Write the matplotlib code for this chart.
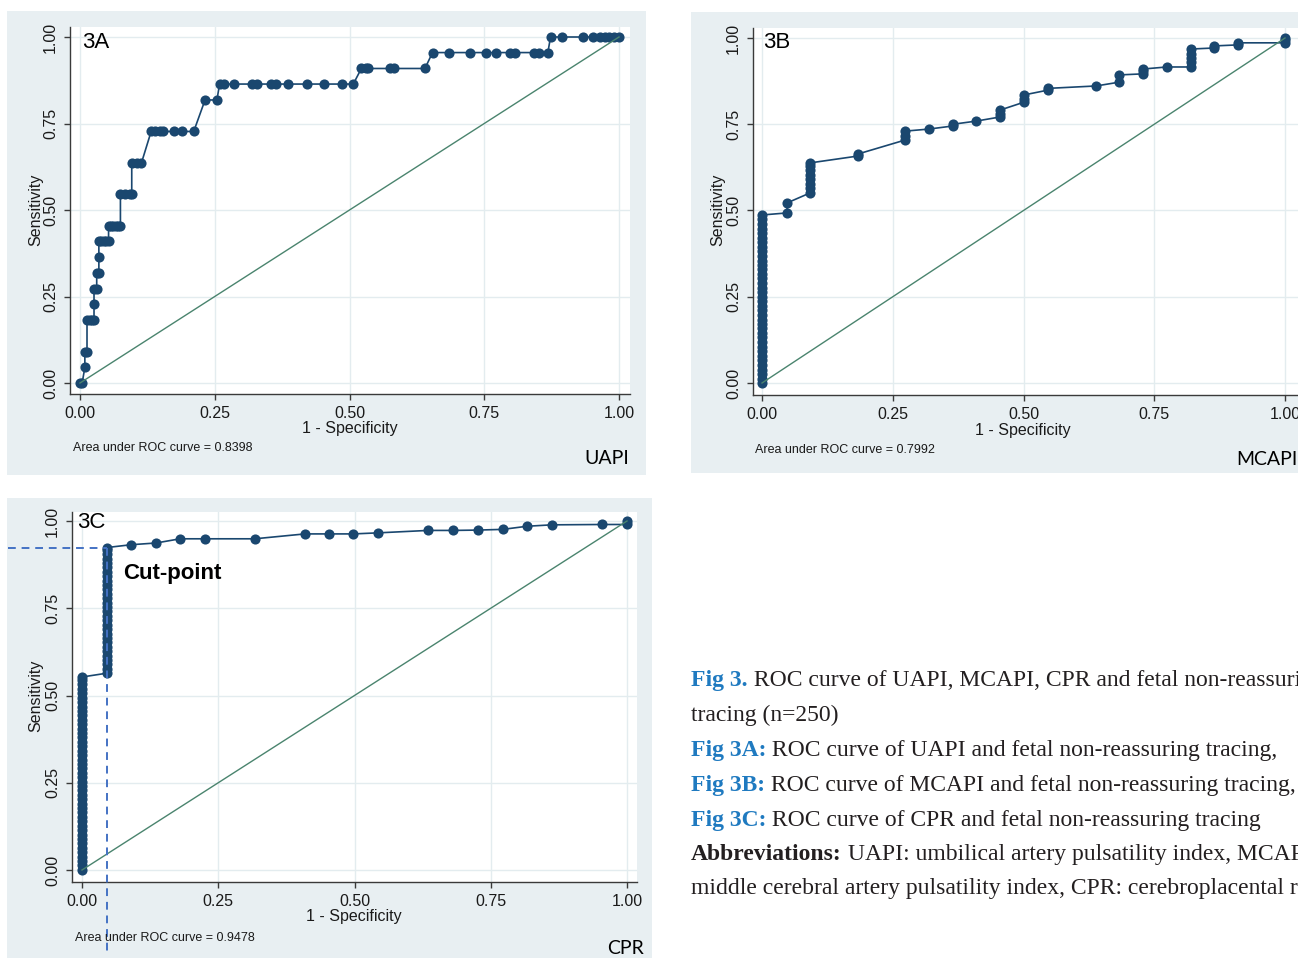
import matplotlib
matplotlib.use("Agg")
import matplotlib.pyplot as plt
from matplotlib.patches import Rectangle

# ---------------- data ----------------
# 3A: UAPI ROC curve points (1 - specificity, sensitivity)
uapi_fpr = [0.000, 0.004,
            0.009,
            0.009, 0.013,
            0.013, 0.018, 0.022, 0.026,
            0.026,
            0.026, 0.031,
            0.031, 0.035,
            0.035,
            0.035, 0.039, 0.044, 0.048, 0.053,
            0.053, 0.057, 0.061, 0.066, 0.070, 0.075,
            0.075, 0.083, 0.092, 0.096,
            0.096, 0.105, 0.114,
            0.132, 0.140, 0.149, 0.154, 0.175, 0.189, 0.211,
            0.232, 0.254,
            0.259, 0.268, 0.285, 0.320, 0.329, 0.355, 0.364, 0.386, 0.421, 0.452, 0.487, 0.507,
            0.522, 0.531, 0.535, 0.575, 0.583, 0.640,
            0.654, 0.684, 0.724, 0.754, 0.772, 0.798, 0.807, 0.842, 0.851, 0.868,
            0.873, 0.895, 0.934, 0.952, 0.965, 0.974, 0.982, 0.991, 1.000]
uapi_sens = [0.000, 0.000,
             0.045,
             0.091, 0.091,
             0.182, 0.182, 0.182, 0.182,
             0.227,
             0.273, 0.273,
             0.318, 0.318,
             0.364,
             0.409, 0.409, 0.409, 0.409, 0.409,
             0.455, 0.455, 0.455, 0.455, 0.455, 0.455,
             0.545, 0.545, 0.545, 0.545,
             0.636, 0.636, 0.636,
             0.727, 0.727, 0.727, 0.727, 0.727, 0.727, 0.727,
             0.818, 0.818,
             0.864, 0.864, 0.864, 0.864, 0.864, 0.864, 0.864, 0.864, 0.864, 0.864, 0.864, 0.864,
             0.909, 0.909, 0.909, 0.909, 0.909, 0.909,
             0.955, 0.955, 0.955, 0.955, 0.955, 0.955, 0.955, 0.955, 0.955, 0.955,
             1.000, 1.000, 1.000, 1.000, 1.000, 1.000, 1.000, 1.000, 1.000]

# 3B: MCAPI ROC curve points
mcapi_fpr = [0.000] * 38 + [
             0.048, 0.048,
             0.092, 0.092, 0.092, 0.092, 0.092, 0.092, 0.092, 0.092,
             0.184, 0.184,
             0.273, 0.273, 0.273,
             0.319,
             0.365, 0.365,
             0.409,
             0.455, 0.455, 0.455,
             0.501, 0.501, 0.501,
             0.547, 0.547,
             0.639,
             0.683, 0.683,
             0.728, 0.728, 0.728,
             0.774,
             0.820, 0.820, 0.820, 0.820, 0.820,
             0.864, 0.864,
             0.910, 0.910,
             1.000, 1.000, 1.000]
mcapi_sens = [0.000, 0.013, 0.026, 0.039, 0.053, 0.066, 0.079, 0.092, 0.105, 0.118,
              0.132, 0.145, 0.158, 0.171, 0.184, 0.197, 0.211, 0.224, 0.237, 0.250,
              0.263, 0.276, 0.289, 0.303, 0.316, 0.329, 0.342, 0.355, 0.368, 0.382,
              0.395, 0.408, 0.421, 0.434, 0.447, 0.461, 0.474, 0.487,
              0.493, 0.522,
              0.551, 0.564, 0.577, 0.590, 0.603, 0.617, 0.630, 0.638,
              0.658, 0.664,
              0.704, 0.717, 0.730,
              0.736,
              0.745, 0.750,
              0.759,
              0.771, 0.780, 0.791,
              0.814, 0.822, 0.835,
              0.849, 0.854,
              0.861,
              0.872, 0.893,
              0.896, 0.903, 0.910,
              0.916,
              0.916, 0.929, 0.942, 0.955, 0.968,
              0.971, 0.977,
              0.980, 0.986,
              0.986, 0.993, 1.000]

# 3C: CPR ROC curve points
cpr_fpr = [0.000] * 45 + [0.046] * 30 + [
           0.090, 0.136, 0.180, 0.226, 0.317, 0.409, 0.454, 0.498, 0.543,
           0.635, 0.681, 0.727, 0.772, 0.817, 0.862, 0.954, 1.000, 1.000]
cpr_sens = [0.000, 0.013, 0.025, 0.038, 0.051, 0.063, 0.076, 0.089, 0.101, 0.114,
            0.127, 0.139, 0.152, 0.165, 0.177, 0.190, 0.203, 0.215, 0.228, 0.241,
            0.253, 0.266, 0.278, 0.291, 0.304, 0.316, 0.329, 0.342, 0.354, 0.367,
            0.380, 0.392, 0.405, 0.418, 0.430, 0.443, 0.456, 0.468, 0.481, 0.494,
            0.506, 0.519, 0.532, 0.544, 0.553,
            0.564, 0.576, 0.589, 0.601, 0.614, 0.627, 0.639, 0.652, 0.665, 0.677,
            0.690, 0.703, 0.715, 0.728, 0.741, 0.753, 0.766, 0.778, 0.791, 0.804,
            0.816, 0.829, 0.842, 0.854, 0.867, 0.880, 0.892, 0.905, 0.918, 0.924,
            0.932, 0.937, 0.949, 0.949, 0.949, 0.963, 0.963, 0.963, 0.966,
            0.973, 0.973, 0.974, 0.976, 0.985, 0.989, 0.990, 0.990, 1.000]

# optimal cut-point of CPR
cut_fpr = 0.046
cut_sens = 0.924

auc_values = {"3A": 0.8398, "3B": 0.7992, "3C": 0.9478}
marker_names = {"3A": "UAPI", "3B": "MCAPI", "3C": "CPR"}

tick_values = [0.0, 0.25, 0.5, 0.75, 1.0]
tick_labels = ["0.00", "0.25", "0.50", "0.75", "1.00"]

caption_lines = [
    [("Fig 3.", "blue"), (" ROC curve of UAPI, MCAPI, CPR and fetal non-reassuring", "plain")],
    [("tracing (n=250)", "plain")],
    [("Fig 3A:", "blue"), (" ROC curve of UAPI and fetal non-reassuring tracing,", "plain")],
    [("Fig 3B:", "blue"), (" ROC curve of MCAPI and fetal non-reassuring tracing,", "plain")],
    [("Fig 3C:", "blue"), (" ROC curve of CPR and fetal non-reassuring tracing", "plain")],
    [("Abbreviations:", "bold"), (" UAPI: umbilical artery pulsatility index, MCAPI:", "plain")],
    [("middle cerebral artery pulsatility index, CPR: cerebroplacental ratio", "plain")],
]

# ---------------- style ----------------
W, H, DPI = 1298, 958, 100
PANEL_BG = "#e8eff2"
GRID = "#e3ecef"
NAVY = "#1a476f"
DIAG = "#4a846e"
CUT = "#4472c4"
AXIS = "#3a3a3a"
TXT = "#1a1a1a"
SANS = ["Liberation Sans", "DejaVu Sans"]

plt.rcParams["font.family"] = SANS

fig = plt.figure(figsize=(W / DPI, H / DPI), dpi=DPI)
fig.patch.set_facecolor("white")


def fx(px):
    return px / W


def fy(py):
    return 1 - py / H


def panel(bg_box, ax_box, x0px, x1px, y0px, y1px):
    """Grey graph region plus a white plot region; returns the axes.
    ax_box is (left, top, right, bottom) in pixels, x0px/x1px give where
    0 and 1 sit horizontally, y0px/y1px where 0 and 1 sit vertically."""
    bx0, by0, bx1, by1 = bg_box
    fig.add_artist(Rectangle((fx(bx0), fy(by1)), (bx1 - bx0) / W, (by1 - by0) / H,
                             transform=fig.transFigure, facecolor=PANEL_BG,
                             edgecolor="none", zorder=-5))
    l, t, r, b = ax_box
    ax = fig.add_axes([fx(l), fy(b), (r - l) / W, (b - t) / H])
    sx = x1px - x0px
    sy = y0px - y1px
    ax.set_xlim((l - x0px) / sx, (r - x0px) / sx)
    ax.set_ylim((y0px - b) / sy, (y0px - t) / sy)
    ax.set_facecolor("white")
    for s in ("top", "right"):
        ax.spines[s].set_visible(False)
    for s in ("left", "bottom"):
        ax.spines[s].set_color(AXIS)
        ax.spines[s].set_linewidth(1.0)
    ax.set_xticks(tick_values)
    ax.set_xticklabels(tick_labels)
    ax.set_yticks(tick_values)
    ax.set_yticklabels(tick_labels, rotation=90, va="center")
    ax.tick_params(axis="both", length=4, width=1.0, color=AXIS, labelsize=11.5,
                   labelcolor=TXT, pad=4.5)
    ax.grid(True, color=GRID, linewidth=1.0)
    ax.set_axisbelow(True)
    return ax


def draw_roc(ax, fpr, sens):
    ax.plot(fpr, sens, color=NAVY, linewidth=1.2, marker="o", markersize=7.3,
            markeredgewidth=0, zorder=3)
    ax.plot([0, 1], [0, 1], color=DIAG, linewidth=1.0, zorder=4)


def labels(key, sens_x, sens_y, spec_x, spec_y, tag_x, tag_y, area_x, area_y,
           name_x, name_y):
    fig.text(fx(sens_x), fy(sens_y), "Sensitivity", rotation=90, ha="center",
             va="center", fontsize=11.5, color=TXT)
    fig.text(fx(spec_x), fy(spec_y), "1 - Specificity", ha="center", va="center",
             fontsize=11.5, color=TXT)
    fig.text(fx(tag_x), fy(tag_y), key, ha="left", va="center", fontsize=16,
             color="black")
    fig.text(fx(area_x), fy(area_y), f"Area under ROC curve = {auc_values[key]:.4f}",
             ha="left", va="center", fontsize=9, color=TXT)
    fig.text(fx(name_x), fy(name_y), marker_names[key], ha="right", va="center",
             fontsize=14, color="black", family=["Lato", "DejaVu Sans"])


# ---- 3A ----
axA = panel((7, 11, 646, 475), (70, 27, 630, 394), 80, 619, 383, 37)
draw_roc(axA, uapi_fpr, uapi_sens)
labels("3A", 36, 210, 350, 428, 82, 43, 73, 448, 629, 459)

# ---- 3B ----
axB = panel((691, 12, 1320, 473), (753, 28, 1312, 395), 762, 1285, 383, 38)
draw_roc(axB, mcapi_fpr, mcapi_sens)
labels("3B", 718, 210, 1023, 430, 763, 43, 755, 450, 1297, 460)

# ---- 3C ----
axC = panel((7, 498, 652, 970), (72, 512, 637, 882), 82, 627, 870, 521)
draw_roc(axC, cpr_fpr, cpr_sens)
labels("3C", 36, 696, 354, 917, 77, 522, 75, 938, 644, 948)

# cut-point guides run out to the edges of the graph region
axC.plot([-0.136, cut_fpr], [cut_sens, cut_sens], color=CUT, linewidth=1.4,
         linestyle=(0, (4, 3)), clip_on=False, zorder=5)
axC.plot([cut_fpr, cut_fpr], [cut_sens, -0.235], color=CUT, linewidth=1.4,
         linestyle=(0, (4, 3)), clip_on=False, zorder=5)
fig.text(fx(123), fy(573), "Cut-point", ha="left", va="center", fontsize=16,
         fontweight="bold", color="black")

# ---------------- caption ----------------
CAP_BLUE = "#1f7ac0"
CAP_TXT = "#231f20"
SERIF = ["Liberation Serif", "DejaVu Serif"]
cap_size = 17
baselines = [686, 721, 756, 791, 826, 860, 894]

renderer = fig.canvas.get_renderer()
for runs, base in zip(caption_lines, baselines):
    x = fx(691)
    for text, kind in runs:
        color = CAP_BLUE if kind == "blue" else CAP_TXT
        weight = "bold" if kind in ("blue", "bold") else "normal"
        t = fig.text(x, fy(base), text, ha="left", va="baseline", fontsize=cap_size,
                     fontweight=weight, color=color, family=SERIF)
        bb = t.get_window_extent(renderer)
        x = bb.x1 / (W)

fig.savefig("out.png", dpi=DPI)
